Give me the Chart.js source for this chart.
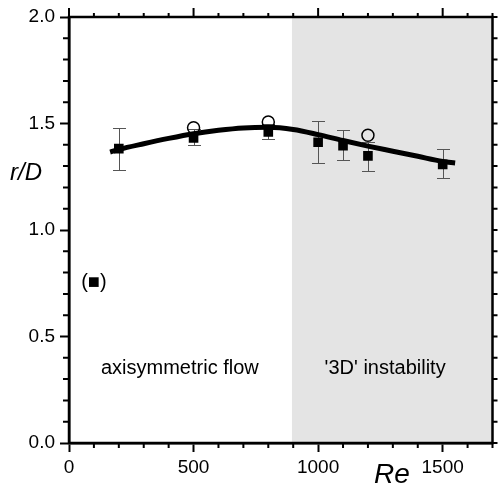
<!DOCTYPE html>
<html>
<head>
<meta charset="utf-8">
<script src="https://cdn.jsdelivr.net/npm/chart.js@4/dist/chart.umd.min.js"></script>
<style>
  body { margin: 0; background: #fff; }
</style>
</head>
<body>
<canvas id="chart" width="500" height="489"></canvas>
<script>
'use strict';

// fitted curve
const curveRe = [165, 200, 300, 400, 500, 600, 700, 800, 900, 1000, 1100, 1200, 1300, 1400, 1500, 1550];
const curveR = [1.366, 1.378, 1.405, 1.43, 1.452, 1.468, 1.479, 1.482, 1.472, 1.448, 1.42, 1.394, 1.37, 1.346, 1.322, 1.315];

// filled squares with error bars
const sqRe = [200, 500, 800, 1000, 1100, 1200, 1500];
const sqR = [1.382, 1.432, 1.46, 1.412, 1.396, 1.348, 1.308];
const errLow = [1.283, 1.398, 1.429, 1.315, 1.327, 1.277, 1.244];
const errHigh = [1.481, 1.476, 1.496, 1.512, 1.468, 1.413, 1.382];

// open circles
const circRe = [500, 800, 1200];
const circR = [1.48, 1.507, 1.445];

// shaded '3D' region and annotations
const regionStart = 895;
const regionEnd = 1700;
const notes = [
  { text: 'axisymmetric flow', re: 445, r: 0.326 },
  { text: "'3D' instability", re: 1269, r: 0.326 },
  { text: '(\u25A0)', re: 100, r: 0.755 }
];

const xTicks = [0, 500, 1000, 1500];
const yTicks = [0.0, 0.5, 1.0, 1.5, 2.0];

Chart.defaults.font.family = "'Liberation Sans', Arial, sans-serif";
Chart.defaults.font.size = 19;
Chart.defaults.color = '#000';

function toPts(xs, ys) {
  return xs.map((v, i) => ({ x: v, y: ys[i] }));
}

const decor = {
  id: 'decor',
  beforeDatasetsDraw(chart) {
    const { ctx, chartArea: a, scales: { x, y } } = chart;
    ctx.save();
    ctx.fillStyle = '#e4e4e4';
    const x0 = x.getPixelForValue(regionStart);
    const x1 = x.getPixelForValue(regionEnd);
    ctx.fillRect(x0, a.top, x1 - x0, a.bottom - a.top);

    // error bars
    ctx.strokeStyle = '#555';
    ctx.lineWidth = 1;
    sqRe.forEach((re, i) => {
      const px = Math.round(x.getPixelForValue(re)) + 0.5;
      const lo = Math.round(y.getPixelForValue(errLow[i])) + 0.5;
      const hi = Math.round(y.getPixelForValue(errHigh[i])) + 0.5;
      ctx.beginPath();
      ctx.moveTo(px, lo); ctx.lineTo(px, hi);
      ctx.moveTo(px - 6.5, lo); ctx.lineTo(px + 6.5, lo);
      ctx.moveTo(px - 6.5, hi); ctx.lineTo(px + 6.5, hi);
      ctx.stroke();
    });
    ctx.restore();
  },
  afterDraw(chart) {
    const { ctx, chartArea: a, scales: { x, y } } = chart;
    ctx.save();
    ctx.strokeStyle = '#000';

    // minor ticks and the top / right ticks
    ctx.lineWidth = 2;
    ctx.beginPath();
    for (let v = 0; v <= 1700; v += 100) {
      const px = x.getPixelForValue(v);
      const major = v % 500 === 0;
      if (!major) {
        ctx.moveTo(px, a.bottom); ctx.lineTo(px, a.bottom + 5);
      }
      ctx.moveTo(px, a.top); ctx.lineTo(px, a.top - (major ? 9 : 4));
    }
    for (let k = 0; k <= 20; k++) {
      const py = y.getPixelForValue(k / 10);
      if (k % 5 !== 0) {
        ctx.moveTo(a.left, py); ctx.lineTo(a.left - 6, py);
      }
      ctx.moveTo(a.right, py); ctx.lineTo(a.right + 5, py);
    }
    ctx.stroke();

    // frame
    ctx.lineWidth = 2.5;
    ctx.strokeRect(a.left, a.top, a.right - a.left, a.bottom - a.top);

    // annotations
    ctx.fillStyle = '#000';
    ctx.textAlign = 'center';
    ctx.textBaseline = 'alphabetic';
    ctx.font = "20px 'Liberation Sans', Arial, sans-serif";
    notes.forEach(n => {
      if (n.text.startsWith('(')) {
        ctx.textBaseline = 'middle';
        ctx.font = "20px 'Liberation Sans', Arial, sans-serif";
      }
      ctx.fillText(n.text, x.getPixelForValue(n.re), y.getPixelForValue(n.r));
    });

    // axis titles
    ctx.textBaseline = 'middle';
    ctx.font = "italic 24px 'Liberation Sans', Arial, sans-serif";
    ctx.fillText('r/D', 26, 173);
    ctx.textAlign = 'left';
    ctx.textBaseline = 'alphabetic';
    ctx.font = "italic 28px 'Liberation Sans', Arial, sans-serif";
    ctx.fillText('Re', 374, 483);
    ctx.restore();
  }
};

const data = {
  datasets: [
    {
      label: 'circles',
      data: toPts(circRe, circR),
      pointStyle: 'circle',
      pointRadius: 6,
      pointBorderWidth: 1.5,
      pointBorderColor: '#000',
      pointBackgroundColor: 'rgba(0,0,0,0)',
      showLine: false
    },
    {
      label: 'squares',
      data: toPts(sqRe, sqR),
      pointStyle: 'rect',
      pointRadius: 6.8,
      pointBorderWidth: 0,
      pointBackgroundColor: '#000',
      showLine: false
    },
    {
      label: 'fit',
      data: toPts(curveRe, curveR),
      showLine: true,
      borderColor: '#000',
      borderWidth: 5,
      borderCapStyle: 'butt',
      cubicInterpolationMode: 'monotone',
      pointRadius: 0
    }
  ]
};

const config = {
  type: 'scatter',
  data: data,
  options: {
    responsive: false,
    animation: false,
    layout: { padding: { top: 17, right: 4, left: 0, bottom: 0 } },
    plugins: { legend: { display: false }, tooltip: { enabled: false } },
    scales: {
      x: {
        type: 'linear',
        min: 0,
        max: 1700,
        afterFit: s => { s.height = 46; },
        afterBuildTicks: s => { s.ticks = xTicks.map(v => ({ value: v })); },
        ticks: { padding: 4, maxRotation: 0, callback: v => String(v) },
        grid: { drawOnChartArea: false, tickLength: 9, tickWidth: 2, tickColor: '#000' },
        border: { color: '#000', width: 2.5 }
      },
      y: {
        type: 'linear',
        min: 0,
        max: 2,
        afterFit: s => { s.width = 69; },
        afterBuildTicks: s => { s.ticks = yTicks.map(v => ({ value: v })); },
        ticks: { padding: 5, callback: v => v.toFixed(1) },
        grid: { drawOnChartArea: false, tickLength: 9, tickWidth: 2, tickColor: '#000' },
        border: { color: '#000', width: 2.5 }
      }
    }
  },
  plugins: [decor]
};

const myChart = new Chart(document.getElementById('chart'), config);
</script>
</body>
</html>
